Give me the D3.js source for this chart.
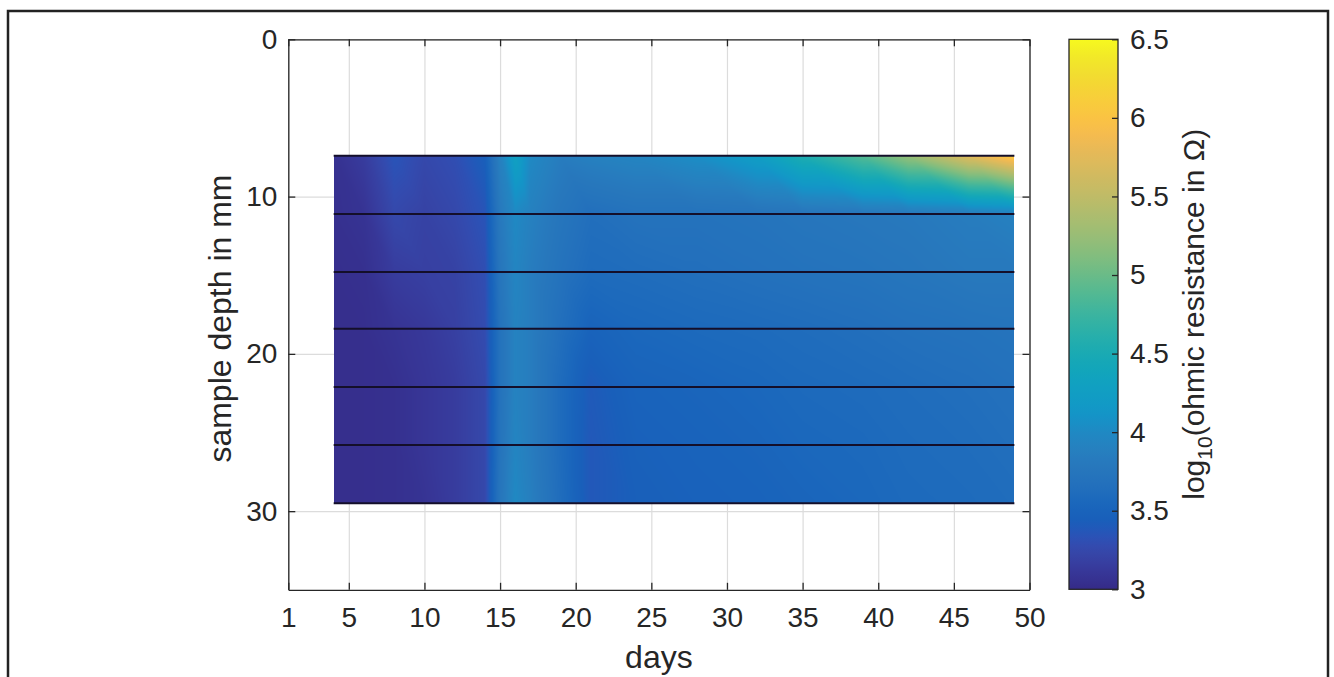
<!DOCTYPE html>
<html>
<head>
<meta charset="utf-8">
<script src="https://cdn.jsdelivr.net/npm/d3@7"></script>
<style>
  html, body { margin: 0; padding: 0; background: #fff; }
  svg { display: block; font-family: "Liberation Sans", Arial, Helvetica, sans-serif; }
</style>
</head>
<body>
<svg id="chart" width="1334" height="677"></svg>
<script>
// Measurement days and electrode depths (mm)
const days = [4, 6, 8, 10, 12, 14, 15, 16, 17, 19, 21, 24, 28, 32, 35, 39, 42, 46, 49];
const depths = [7.4, 11.1, 14.8, 18.4, 22.1, 25.8, 29.5];

// log10 of ohmic resistance per depth, one value per measurement day
const depth07 = [3.06, 3.15, 3.35, 3.25, 3.30, 3.45, 3.90, 4.30, 4.00, 3.85, 3.90, 3.95, 4.05, 4.25, 4.55, 4.90, 5.25, 5.75, 6.10];
const depth11 = [3.05, 3.08, 3.25, 3.20, 3.25, 3.35, 3.80, 4.00, 3.90, 3.75, 3.65, 3.70, 3.70, 3.72, 3.75, 3.78, 3.80, 3.85, 3.90];
const depth15 = [3.04, 3.05, 3.15, 3.18, 3.20, 3.30, 3.75, 3.95, 3.85, 3.70, 3.60, 3.62, 3.65, 3.68, 3.70, 3.72, 3.75, 3.80, 3.80];
const depth18 = [3.04, 3.04, 3.08, 3.12, 3.18, 3.28, 3.70, 3.92, 3.85, 3.65, 3.50, 3.55, 3.58, 3.60, 3.62, 3.65, 3.68, 3.70, 3.72];
const depth22 = [3.04, 3.04, 3.05, 3.10, 3.15, 3.25, 3.70, 3.92, 3.85, 3.60, 3.40, 3.50, 3.52, 3.55, 3.58, 3.60, 3.62, 3.65, 3.68];
const depth26 = [3.04, 3.04, 3.05, 3.10, 3.15, 3.25, 3.72, 3.95, 3.85, 3.60, 3.38, 3.47, 3.50, 3.52, 3.55, 3.57, 3.60, 3.62, 3.65];
const depth30 = [3.04, 3.04, 3.05, 3.08, 3.15, 3.25, 3.75, 4.00, 3.88, 3.62, 3.38, 3.45, 3.48, 3.50, 3.52, 3.55, 3.58, 3.60, 3.62];

// Tick labels
const dayTicks = [1, 5, 10, 15, 20, 25, 30, 35, 40, 45, 50];
const depthTicks = [0, 10, 20, 30];
const colorTicks = [3, 3.5, 4, 4.5, 5, 5.5, 6, 6.5];

const grid = [depth07, depth11, depth15, depth18, depth22, depth26, depth30];

// parula colormap stops
const parulaRaw = [
  [0.2081, 0.1663, 0.5292], [0.2116, 0.1898, 0.5777], [0.2123, 0.2138, 0.6270],
  [0.2081, 0.2386, 0.6771], [0.1959, 0.2645, 0.7279], [0.1707, 0.2919, 0.7792],
  [0.1253, 0.3242, 0.8303], [0.0591, 0.3598, 0.8683], [0.0117, 0.3875, 0.8820],
  [0.0060, 0.4086, 0.8828], [0.0165, 0.4266, 0.8786], [0.0329, 0.4430, 0.8720],
  [0.0498, 0.4586, 0.8641], [0.0629, 0.4737, 0.8554], [0.0723, 0.4887, 0.8467],
  [0.0779, 0.5040, 0.8384], [0.0793, 0.5200, 0.8312], [0.0749, 0.5375, 0.8263],
  [0.0641, 0.5570, 0.8240], [0.0488, 0.5772, 0.8228], [0.0343, 0.5966, 0.8199],
  [0.0265, 0.6137, 0.8135], [0.0239, 0.6287, 0.8038], [0.0231, 0.6418, 0.7913],
  [0.0228, 0.6535, 0.7768], [0.0267, 0.6642, 0.7607], [0.0384, 0.6743, 0.7436],
  [0.0590, 0.6838, 0.7254], [0.0843, 0.6928, 0.7062], [0.1133, 0.7015, 0.6859],
  [0.1453, 0.7098, 0.6646], [0.1801, 0.7177, 0.6424], [0.2178, 0.7250, 0.6193],
  [0.2586, 0.7317, 0.5954], [0.3022, 0.7376, 0.5712], [0.3482, 0.7424, 0.5473],
  [0.3953, 0.7459, 0.5244], [0.4420, 0.7481, 0.5033], [0.4871, 0.7491, 0.4840],
  [0.5300, 0.7491, 0.4661], [0.5709, 0.7485, 0.4494], [0.6099, 0.7473, 0.4337],
  [0.6473, 0.7456, 0.4188], [0.6834, 0.7435, 0.4044], [0.7184, 0.7411, 0.3905],
  [0.7525, 0.7384, 0.3768], [0.7858, 0.7356, 0.3633], [0.8185, 0.7327, 0.3498],
  [0.8507, 0.7299, 0.3360], [0.8824, 0.7274, 0.3217], [0.9139, 0.7258, 0.3063],
  [0.9450, 0.7261, 0.2886], [0.9739, 0.7314, 0.2666], [0.9938, 0.7455, 0.2403],
  [0.9990, 0.7653, 0.2164], [0.9955, 0.7861, 0.1967], [0.9880, 0.8066, 0.1794],
  [0.9789, 0.8271, 0.1633], [0.9697, 0.8481, 0.1475], [0.9626, 0.8705, 0.1309],
  [0.9589, 0.8949, 0.1132], [0.9598, 0.9218, 0.0948], [0.9661, 0.9514, 0.0755],
  [0.9763, 0.9831, 0.0538]
];
// Softer print tones: the saturated blue band is toned down the most
const muteAt = d3.scaleLinear().domain([0, 0.06, 0.12, 0.22, 0.32, 1]).range([0.0, 0.16, 0.28, 0.25, 0.1, 0.08]).clamp(true);
const parula = parulaRaw.map(([r, g, b], i) => {
  const m = muteAt(i / (parulaRaw.length - 1));
  const l = 0.3 * r + 0.59 * g + 0.11 * b;
  const f = v => 255 * ((1 - m) * v + m * l);
  return d3.rgb(f(r), f(g), f(b)).formatHex();
});

const svg = d3.select("#chart");
const W = 1334, H = 677;
const ink = "#262626";

// Scales
const x = d3.scaleLinear().domain([1, 50]).range([288.3, 1029.5]);
const y = d3.scaleLinear().domain([0, 35]).range([39.3, 589.8]);
const cbar = { x0: 1069, x1: 1118 };
const cy = d3.scaleLinear().domain([3, 6.5]).range([589.3, 39.3]);
const color = d3.scaleLinear()
  .domain(parula.map((_, i) => 3 + 3.5 * i / (parula.length - 1)))
  .range(parula)
  .interpolate(d3.interpolateRgb)
  .clamp(true);

// Background and outer frame
svg.append("rect").attr("width", W).attr("height", H).attr("fill", "#fff");
svg.append("rect").attr("x", 8).attr("y", 11).attr("width", 1320).attr("height", 690)
  .attr("fill", "none").attr("stroke", "#222").attr("stroke-width", 2.5);

// Grid lines
const gx = svg.append("g").attr("transform", `translate(0,${y(35)})`)
  .call(d3.axisBottom(x).tickValues(dayTicks).tickSize(-(y(35) - y(0))).tickFormat("").tickSizeOuter(0));
gx.select(".domain").remove();
gx.selectAll("line").attr("stroke", "#dcdcdc").attr("stroke-width", 1.2);
const gy = svg.append("g").attr("transform", `translate(${x(1)},0)`)
  .call(d3.axisLeft(y).tickValues(depthTicks).tickSize(-(x(50) - x(1))).tickFormat("").tickSizeOuter(0));
gy.select(".domain").remove();
gy.selectAll("line").attr("stroke", "#dcdcdc").attr("stroke-width", 1.2);

// Interpolated surface: each cell split into two triangles (linear shading)
function valueAt(d, z) {
  let i = Math.min(Math.max(d3.bisectRight(days, d) - 1, 0), days.length - 2);
  let j = Math.min(Math.max(d3.bisectRight(depths, z) - 1, 0), depths.length - 2);
  const u = (d - days[i]) / (days[i + 1] - days[i]);
  const v = (z - depths[j]) / (depths[j + 1] - depths[j]);
  const a = grid[j][i], b = grid[j][i + 1], c = grid[j + 1][i], e = grid[j + 1][i + 1];
  if (u >= v) return a + u * (b - a) + v * (e - b);
  return a + v * (c - a) + u * (e - c);
}

const px0 = Math.round(x(days[0])), px1 = Math.round(x(days[days.length - 1]));
const py0 = Math.round(y(depths[0])), py1 = Math.round(y(depths[depths.length - 1]));
const cw = px1 - px0, ch = py1 - py0;
const canvas = document.createElement("canvas");
canvas.width = cw; canvas.height = ch;
const ctx = canvas.getContext("2d");
const img = ctx.createImageData(cw, ch);
for (let r = 0; r < ch; r++) {
  const z = y.invert(py0 + r + 0.5);
  for (let k = 0; k < cw; k++) {
    const d = x.invert(px0 + k + 0.5);
    const col = d3.rgb(color(valueAt(d, z)));
    const o = (r * cw + k) * 4;
    img.data[o] = col.r; img.data[o + 1] = col.g; img.data[o + 2] = col.b; img.data[o + 3] = 255;
  }
}
ctx.putImageData(img, 0, 0);
svg.append("image")
  .attr("x", px0).attr("y", py0).attr("width", cw).attr("height", ch)
  .attr("preserveAspectRatio", "none")
  .attr("href", canvas.toDataURL());

// Electrode depth lines
svg.append("g").selectAll("line").data(depths).join("line")
  .attr("x1", x(days[0])).attr("x2", x(days[days.length - 1]))
  .attr("y1", d => y(d)).attr("y2", d => y(d))
  .attr("stroke", "#140f2a").attr("stroke-width", 2);

// Axes (box with inward ticks)
function styleAxis(g) {
  g.select(".domain").attr("stroke", ink).attr("stroke-width", 1.3);
  g.selectAll(".tick line").attr("stroke", ink).attr("stroke-width", 1.3);
  g.selectAll(".tick text").attr("fill", ink).attr("font-size", 28);
}
svg.append("g").attr("transform", `translate(0,${y(35)})`)
  .call(d3.axisBottom(x).tickValues(dayTicks).tickSize(-7).tickSizeOuter(0).tickPadding(17).tickFormat(d3.format("d")))
  .call(styleAxis);
svg.append("g").attr("transform", `translate(0,${y(0)})`)
  .call(d3.axisTop(x).tickValues(dayTicks).tickSize(-7).tickSizeOuter(0).tickFormat(""))
  .call(styleAxis);
svg.append("g").attr("transform", `translate(${x(1)},0)`)
  .call(d3.axisLeft(y).tickValues(depthTicks).tickSize(-7).tickSizeOuter(0).tickPadding(11).tickFormat(d3.format("d")))
  .call(styleAxis);
svg.append("g").attr("transform", `translate(${x(50)},0)`)
  .call(d3.axisRight(y).tickValues(depthTicks).tickSize(-7).tickSizeOuter(0).tickFormat(""))
  .call(styleAxis);

// Axis titles
svg.append("text").attr("x", (x(1) + x(50)) / 2).attr("y", 668)
  .attr("text-anchor", "middle").attr("font-size", 32).attr("fill", ink).text("days");
svg.append("text").attr("transform", `translate(231,${(y(0) + y(35)) / 2 + 4}) rotate(-90)`)
  .attr("text-anchor", "middle").attr("font-size", 32).attr("fill", ink).text("sample depth in mm");

// Colorbar
const defs = svg.append("defs");
const grad = defs.append("linearGradient").attr("id", "cbgrad")
  .attr("x1", 0).attr("y1", 1).attr("x2", 0).attr("y2", 0);
grad.selectAll("stop").data(parula).join("stop")
  .attr("offset", (_, i) => i / (parula.length - 1))
  .attr("stop-color", d => d);
svg.append("rect").attr("x", cbar.x0).attr("y", cy(6.5))
  .attr("width", cbar.x1 - cbar.x0).attr("height", cy(3) - cy(6.5))
  .attr("fill", "url(#cbgrad)").attr("stroke", ink).attr("stroke-width", 1.3);
svg.append("g").attr("transform", `translate(${cbar.x1},0)`)
  .call(d3.axisRight(cy).tickValues(colorTicks).tickSize(-6).tickSizeOuter(0).tickPadding(12).tickFormat(d3.format("~g")))
  .call(g => g.select(".domain").remove())
  .call(g => g.selectAll(".tick line").attr("stroke", ink).attr("stroke-width", 1.3))
  .call(g => g.selectAll(".tick text").attr("fill", ink).attr("font-size", 28));

const cbLabel = svg.append("text")
  .attr("transform", `translate(1204,${(cy(3) + cy(6.5)) / 2}) rotate(-90)`)
  .attr("text-anchor", "middle").attr("font-size", 30).attr("fill", ink);
cbLabel.append("tspan").text("log");
cbLabel.append("tspan").attr("font-size", 21).attr("dy", 8).text("10");
cbLabel.append("tspan").attr("dy", -8).text("(ohmic resistance in Ω)");
</script>
</body>
</html>
